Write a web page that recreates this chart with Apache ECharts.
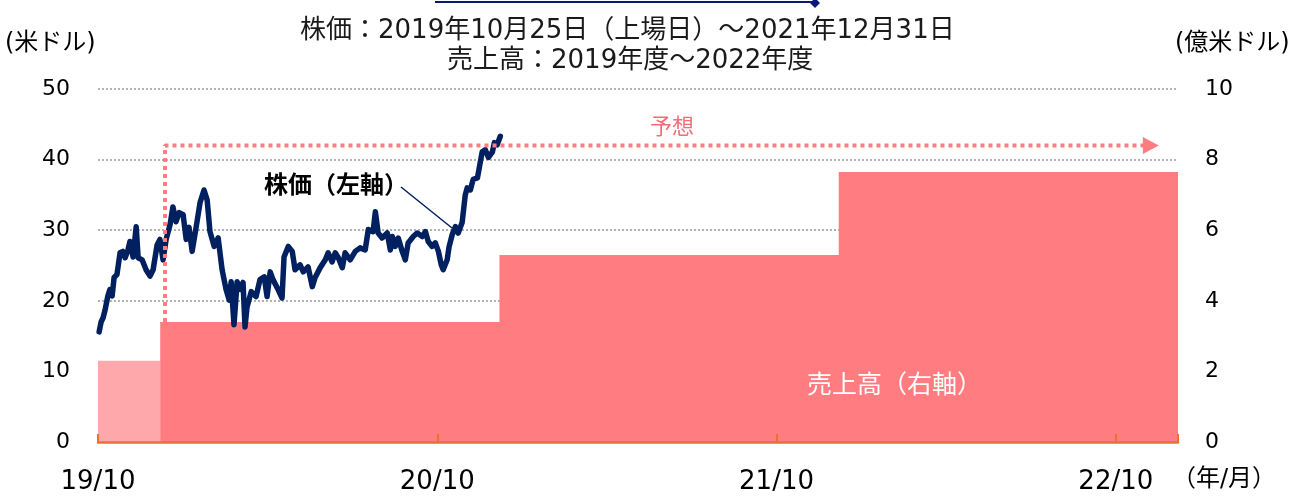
<!DOCTYPE html>
<html>
<head>
<meta charset="utf-8">
<script src="https://cdn.jsdelivr.net/npm/echarts@6/dist/echarts.min.js"></script>
<style>
  html, body { margin: 0; padding: 0; background: #fff; }
  #chart { width: 1289px; height: 496px; }
</style>
</head>
<body>
<div id="chart"></div>
<script>
// x axis is in months counted from 2019/10
var xTickLabels = ['19/10', '20/10', '21/10', '22/10'];
var xMax = 38.2;

// 売上高 (億米ドル), one step per fiscal year
var fyLabels = ['2019年度', '2020年度', '2021年度', '2022年度'];
var fyStart = [0, 2.2, 14.2, 26.2];
var revenue = [2.3, 3.4, 5.3, 7.65];

// 予想 arrow: starts at the 2020 step, runs out to the right
var forecastStart = 2.37;
var forecastEnd = 37.24;
var forecastLevel = 8.4;

// 株価 (米ドル)
var stockMonth = [0.04, 0.11, 0.18, 0.25, 0.35, 0.42, 0.50, 0.57, 0.67, 0.78,
    0.88, 0.96, 1.06, 1.13, 1.24, 1.35, 1.42, 1.56, 1.70, 1.84,
    1.95, 2.09, 2.19, 2.30, 2.41, 2.55, 2.65, 2.76, 2.87, 3.01,
    3.12, 3.22, 3.33, 3.47, 3.61, 3.75, 3.86, 3.96, 4.11, 4.25,
    4.39, 4.53, 4.64, 4.71, 4.81, 4.92, 5.03, 5.13, 5.20, 5.27,
    5.42, 5.59, 5.73, 5.88, 5.98, 6.09, 6.19, 6.37, 6.51, 6.58,
    6.73, 6.87, 6.97, 7.15, 7.26, 7.43, 7.58, 7.68, 7.86, 8.04,
    8.14, 8.28, 8.39, 8.50, 8.64, 8.74, 8.92, 9.10, 9.27, 9.45,
    9.56, 9.73, 9.81, 9.91, 10.05, 10.23, 10.34, 10.41, 10.51, 10.62,
    10.76, 10.87, 10.97, 11.15, 11.29, 11.47, 11.58, 11.68, 11.82, 11.93,
    12.04, 12.14, 12.21, 12.35, 12.42, 12.53, 12.64, 12.74, 12.88, 12.99,
    13.06, 13.17, 13.27, 13.42, 13.52, 13.59, 13.70, 13.81, 13.95, 14.02,
    14.12, 14.23];
var stockPrice = [15.6, 17.0, 17.6, 18.7, 20.7, 21.6, 20.7, 23.3, 23.7, 26.8,
    27.0, 26.1, 27.2, 28.4, 26.2, 30.5, 26.1, 25.8, 24.4, 23.5,
    24.4, 27.9, 28.7, 25.8, 28.7, 30.8, 33.3, 31.2, 32.5, 32.2,
    28.7, 30.4, 27.0, 30.4, 33.9, 35.7, 34.3, 29.8, 27.7, 28.9,
    24.4, 21.6, 20.1, 22.7, 16.6, 22.7, 21.6, 22.6, 16.3, 19.1,
    21.3, 20.6, 23.0, 23.4, 20.6, 24.1, 23.0, 21.6, 20.4, 26.2,
    27.7, 27.0, 24.4, 25.1, 24.1, 24.8, 22.0, 23.3, 24.7, 25.8,
    26.8, 25.5, 26.8, 26.1, 24.7, 26.8, 25.8, 27.0, 27.5, 27.2,
    30.1, 29.8, 32.6, 29.6, 28.9, 29.6, 27.2, 29.1, 27.7, 28.9,
    27.0, 25.8, 28.2, 29.1, 29.6, 29.1, 29.8, 28.4, 27.7, 28.2,
    27.0, 25.1, 24.4, 25.8, 27.7, 29.4, 30.5, 29.6, 31.1, 35.0,
    36.0, 35.7, 37.2, 37.4, 39.6, 41.1, 41.4, 40.3, 41.1, 42.4,
    42.1, 43.3];

var FONT = '"DejaVu Sans", "Noto Sans CJK JP", sans-serif';
var NAVY = '#002060';
var PINK = '#ff7c80';
var PINK_LIGHT = '#ffa8ac';

var stockData = stockMonth.map(function (m, i) {
    return [m, stockPrice[i]];
});

// first fiscal year (actual) drawn lighter, the rest as one stepped area
var revFirst = [[fyStart[0], revenue[0]], [fyStart[1], revenue[0]]];
var revRest = [];
for (var i = 1; i < revenue.length; i++) {
    revRest.push([fyStart[i], revenue[i]]);
}
revRest.push([xMax, revenue[revenue.length - 1]]);

var chart = echarts.init(document.getElementById('chart'));

chart.setOption({
    animation: false,
    textStyle: { fontFamily: FONT },
    grid: { left: 98, right: 111, top: 89, bottom: 54 },
    xAxis: {
        type: 'value',
        min: 0,
        max: xMax,
        interval: 12,
        z: 10,
        splitLine: { show: false },
        axisLine: { lineStyle: { color: '#e97132', width: 2.5 } },
        axisTick: { inside: true, length: 8, lineStyle: { color: '#e97132', width: 2 } },
        axisLabel: {
            color: '#000',
            fontSize: 26,
            margin: 27,
            fontFamily: FONT,
            formatter: function (v) {
                var k = Math.round(v / 12);
                return Math.abs(v - k * 12) < 0.01 ? (xTickLabels[k] || '') : '';
            }
        }
    },
    yAxis: [{
        type: 'value',
        min: 0,
        max: 50,
        interval: 10,
        axisLine: { show: false },
        axisTick: { show: false },
        axisLabel: { color: '#000', fontSize: 22, margin: 28, fontFamily: FONT },
        splitLine: { lineStyle: { color: '#a0a0a0', type: [2, 2], width: 1.6 } }
    }, {
        type: 'value',
        min: 0,
        max: 10,
        interval: 2,
        axisLine: { show: false },
        axisTick: { show: false },
        axisLabel: { color: '#000', fontSize: 22, margin: 27, fontFamily: FONT },
        splitLine: { show: false }
    }],
    series: [{
        name: fyLabels[0],
        type: 'line',
        yAxisIndex: 1,
        step: 'end',
        symbol: 'none',
        lineStyle: { width: 0 },
        areaStyle: { color: PINK_LIGHT, opacity: 1 },
        data: revFirst,
        z: 1
    }, {
        name: '売上高',
        type: 'line',
        yAxisIndex: 1,
        step: 'end',
        symbol: 'none',
        lineStyle: { width: 0 },
        areaStyle: { color: PINK, opacity: 1 },
        data: revRest,
        z: 1
    }, {
        name: '株価',
        type: 'line',
        yAxisIndex: 0,
        symbol: 'none',
        lineStyle: { color: NAVY, width: 5.5, join: 'round', cap: 'round' },
        data: stockData,
        z: 3
    }, {
        name: '予想',
        type: 'line',
        yAxisIndex: 1,
        symbol: 'none',
        showSymbol: true,
        lineStyle: { color: PINK, width: 4, type: [4, 4] },
        itemStyle: { color: PINK },
        data: [
            [forecastStart, revenue[1]],
            [forecastStart, forecastLevel],
            { value: [forecastEnd, forecastLevel], symbol: 'triangle', symbolRotate: -90, symbolSize: [17, 16] }
        ],
        z: 4
    }],
    graphic: [
        { type: 'line', z: 100, shape: { x1: 435, y1: 2, x2: 812, y2: 2 }, style: { stroke: '#0a1a7a', lineWidth: 2 } },
        { type: 'polygon', z: 100, shape: { points: [[810, 3], [815, -2], [820, 3], [815, 8]] }, style: { fill: '#0a1a7a' } },
        { type: 'text', z: 100, left: 300, top: 18, style: { text: '株価：2019年10月25日（上場日）～2021年12月31日', font: '26px ' + FONT, fill: '#1a1a1a' } },
        { type: 'text', z: 100, left: 447, top: 48, style: { text: '売上高：2019年度～2022年度', font: '26px ' + FONT, fill: '#1a1a1a' } },
        { type: 'text', z: 100, left: 5, top: 32, style: { text: '(米ドル)', font: '24px ' + FONT, fill: '#000' } },
        { type: 'text', z: 100, left: 1175, top: 32, style: { text: '(億米ドル)', font: '24px ' + FONT, fill: '#000' } },
        { type: 'text', z: 100, left: 1172, top: 468, style: { text: '（年/月）', font: '24px ' + FONT, fill: '#000' } },
        { type: 'text', z: 100, left: 650, top: 117, style: { text: '予想', font: '22px ' + FONT, fill: '#f26d76' } },
        { type: 'text', z: 100, left: 264, top: 175, style: { text: '株価（左軸）', font: 'bold 24px ' + FONT, fill: '#000' } },
        { type: 'line', z: 100, shape: { x1: 401, y1: 187, x2: 452, y2: 228 }, style: { stroke: NAVY, lineWidth: 1.5 } },
        { type: 'text', z: 100, left: 807, top: 374, style: { text: '売上高（右軸）', font: '25px ' + FONT, fill: '#fff' } }
    ]
});
</script>
</body>
</html>
